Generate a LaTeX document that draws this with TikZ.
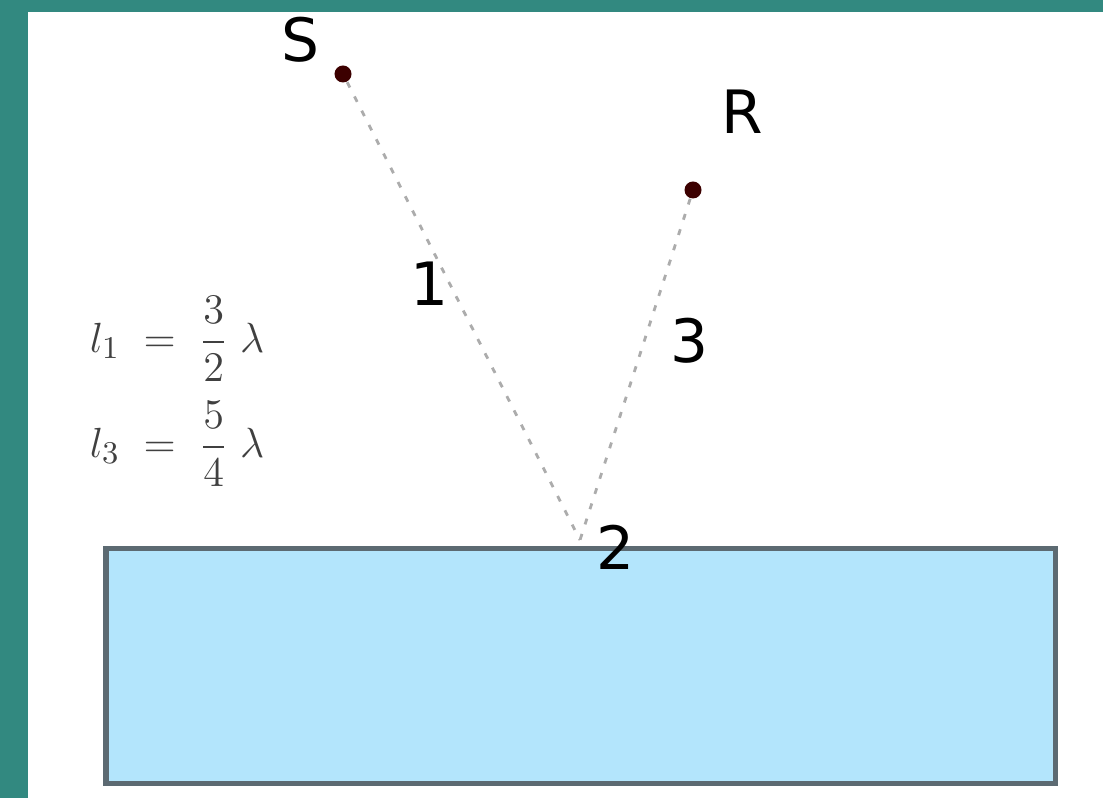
\documentclass[tikz,border=0pt]{standalone}
\usepackage{amsmath}
\usepackage{fontspec}
\newfontfamily\labelfont{DejaVu Sans}
\usetikzlibrary{positioning}
\definecolor{frameteal}{RGB}{50,137,128}
\definecolor{waterblue}{RGB}{179,229,252}
\definecolor{edgegray}{RGB}{92,106,114}
\definecolor{raygray}{RGB}{172,172,172}
\definecolor{dotred}{RGB}{60,0,0}

\begin{document}
\begin{tikzpicture}[x=0.01cm, y=-0.01cm,
  every node/.style={font=\labelfont\fontsize{17}{17}\selectfont, inner sep=0pt},
  pt/.style={circle, fill=dotred, minimum size=0.17cm},
  ray/.style={raygray, line width=0.028cm, dash pattern=on 0.06cm off 0.1cm},
  eqn/.style={font=\fontsize{12.5}{14}\selectfont, text=black!75}]
  \useasboundingbox (0,0) rectangle (1103,798);
  % frame
  \fill[frameteal] (0,0) rectangle (28,798);
  \fill[frameteal] (0,0) rectangle (1103,12);
  % surface
  \draw[edgegray, fill=waterblue, line width=0.05cm] (106,549) rectangle (1055,784);
  % source, receiver and reflection point
  \node[pt] (S) at (343,74) {};
  \node[pt] (R) at (693,190) {};
  \coordinate (P) at (580,540);
  \node (lblS) at (300,40) {S};
  \node (lblR) at (742,112) {R};
  \draw[ray] (S) -- (P);
  \draw[ray] (R) -- (P);
  % path labels
  \node (n1) at (430,284) {1};
  \node (n2) at (616,547) {2};
  \node (n3) at (690,341) {3};
  % lengths
  \node[eqn] (eq1) at (177,339) {$l_1 \;=\; \dfrac{3}{2}\;\lambda$};
  \node[eqn] (eq3) at (177,444) {$l_3 \;=\; \dfrac{5}{4}\;\lambda$};
\end{tikzpicture}
\end{document}
